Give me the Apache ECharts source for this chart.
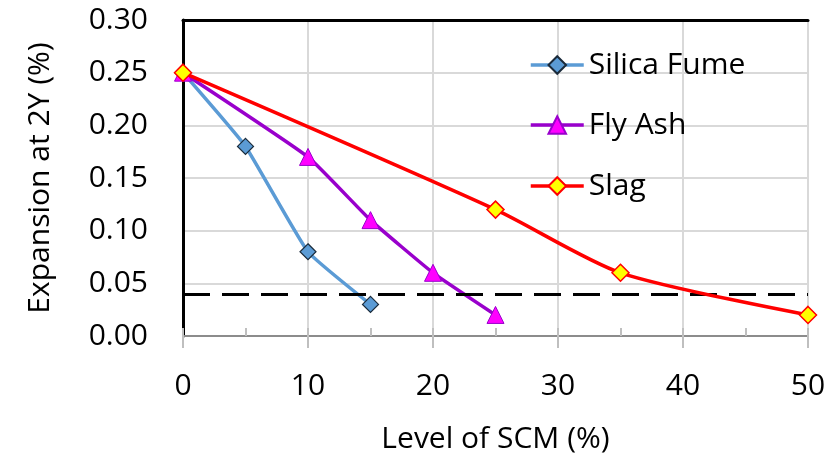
<!DOCTYPE html>
<html>
<head>
<meta charset="utf-8">
<script src="https://cdn.jsdelivr.net/npm/echarts@6/dist/echarts.min.js"></script>
<style>
  html, body { margin: 0; padding: 0; background: #fff; }
  #chart { width: 838px; height: 461px; }
</style>
</head>
<body>
<div id="chart"></div>
<script>
// Expansion at 2 years vs. replacement level of supplementary cementing material
const silicaFumeLevel = [0, 5, 10, 15];
const silicaFumeExp   = [0.25, 0.18, 0.08, 0.03];
const flyAshLevel = [0, 10, 15, 20, 25];
const flyAshExp   = [0.25, 0.17, 0.11, 0.06, 0.02];
const slagLevel = [0, 25, 35, 50];
const slagExp   = [0.25, 0.12, 0.06, 0.02];
const expansionLimit = 0.04;
const seriesNames = ['Silica Fume', 'Fly Ash', 'Slag'];

const FONT = 'Open Sans';
const FS = 30;

function pairs(xs, ys) { return xs.map((x, i) => [x, ys[i]]); }

const chart = echarts.init(document.getElementById('chart'), null, { renderer: 'canvas' });

const legendBase = {
  left: 529,
  orient: 'vertical',
  itemWidth: 53,
  itemHeight: 22,
  itemGap: 6,
  lineStyle: { width: 3.5 },
  textStyle: { fontFamily: FONT, fontSize: FS, color: '#000', padding: [0, 0, 0, 0] },
  padding: 0
};

chart.setOption({
  animation: false,
  backgroundColor: '#fff',
  textStyle: { fontFamily: FONT },
  grid: { left: 183, right: 30, top: 20, bottom: 125, containLabel: false },
  legend: [
    Object.assign({}, legendBase, { top: 50, data: [seriesNames[0]] }),
    Object.assign({}, legendBase, { top: 110, data: [seriesNames[1]] }),
    Object.assign({}, legendBase, { top: 171, data: [seriesNames[2]] })
  ],
  xAxis: [
    {
      type: 'value', position: 'bottom', min: 0, max: 50, interval: 10,
      name: 'Level of SCM (%)', nameLocation: 'middle', nameGap: 88,
      nameTextStyle: { fontFamily: FONT, fontSize: FS, color: '#000' },
      axisLine: { show: true, lineStyle: { color: '#8c8c8c', width: 2 } },
      axisTick: { show: true, inside: false, length: 12, lineStyle: { color: '#bfbfbf', width: 2 } },
      axisLabel: { fontFamily: FONT, fontSize: FS, color: '#000', margin: 35 },
      splitLine: { show: true, lineStyle: { color: '#d9d9d9', width: 2 } }
    },
    {
      // inner minor ticks every 5 units
      type: 'value', position: 'bottom', min: 0, max: 50, interval: 5,
      axisLine: { show: false },
      axisTick: { show: true, inside: true, length: 8, lineStyle: { color: '#bfbfbf', width: 2 } },
      axisLabel: { show: false },
      splitLine: { show: false }
    },
    {
      // top frame edge
      type: 'value', position: 'top', min: 0, max: 50,
      axisLine: { show: true, lineStyle: { color: '#000', width: 3 } },
      axisTick: { show: false }, axisLabel: { show: false }, splitLine: { show: false }
    }
  ],
  yAxis: [
    {
      type: 'value', position: 'left', min: 0, max: 0.30, interval: 0.05,
      name: 'Expansion at 2Y (%)', nameLocation: 'middle', nameGap: 128,
      nameTextStyle: { fontFamily: FONT, fontSize: FS, color: '#000' },
      axisLine: { show: true, lineStyle: { color: '#595959', width: 2 } },
      axisTick: { show: false },
      axisLabel: { fontFamily: FONT, fontSize: FS, color: '#000', margin: 35,
                   formatter: v => v.toFixed(2) },
      splitLine: { show: true, lineStyle: { color: '#d9d9d9', width: 2 } }
    },
    {
      // right frame edge
      type: 'value', position: 'right', min: 0, max: 0.30,
      axisLine: { show: true, lineStyle: { color: '#000', width: 3 } },
      axisTick: { show: false }, axisLabel: { show: false }, splitLine: { show: false }
    }
  ],
  series: [
    {
      name: seriesNames[0], type: 'line', smooth: 0.12,
      data: pairs(silicaFumeLevel, silicaFumeExp),
      symbol: 'diamond', symbolSize: 16,
      lineStyle: { color: '#5b9bd5', width: 3.5 },
      itemStyle: { color: '#5b9bd5', borderColor: '#1a2a3a', borderWidth: 1.2 },
      z: 3
    },
    {
      name: seriesNames[1], type: 'line', smooth: 0.12,
      data: pairs(flyAshLevel, flyAshExp),
      symbol: 'triangle', symbolSize: 17,
      lineStyle: { color: '#9900cc', width: 3.5 },
      itemStyle: { color: '#ff00ff', borderColor: '#9900cc', borderWidth: 1 },
      z: 4
    },
    {
      name: seriesNames[2], type: 'line', smooth: 0.25,
      data: pairs(slagLevel, slagExp),
      symbol: 'diamond', symbolSize: 17,
      lineStyle: { color: '#ff0000', width: 3.5 },
      itemStyle: { color: '#ffff00', borderColor: '#ff0000', borderWidth: 1.5 },
      z: 5,
      markLine: {
        silent: true, symbol: 'none', label: { show: false },
        lineStyle: { color: '#000', width: 3, type: [27, 12] },
        data: [{ yAxis: expansionLimit }]
      }
    }
  ]
});
</script>
</body>
</html>
